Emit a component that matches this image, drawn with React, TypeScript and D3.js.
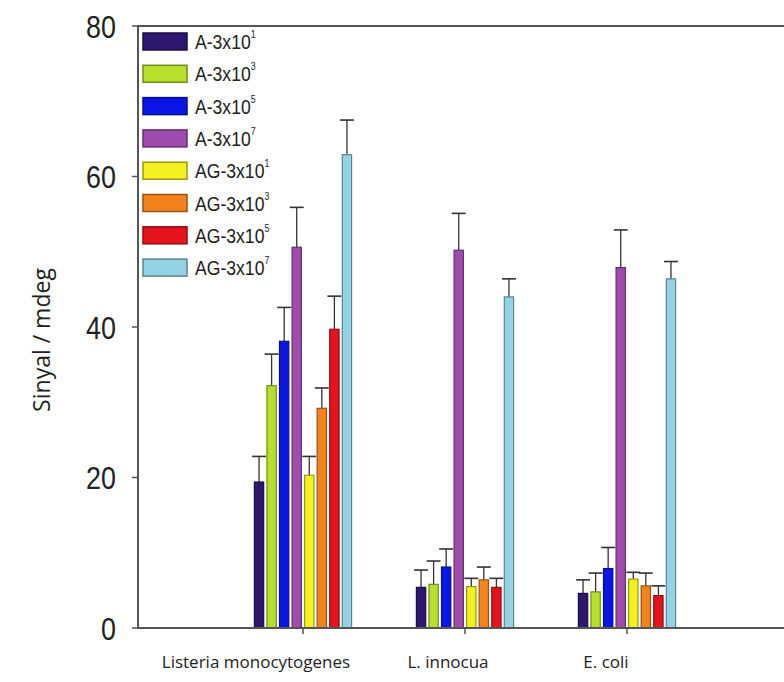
import React, { useEffect, useRef } from "react";
import * as d3 from "d3";

const groups = ["Listeria monocytogenes", "L. innocua", "E. coli"];
const seriesBase = ["A-3x10", "A-3x10", "A-3x10", "A-3x10", "AG-3x10", "AG-3x10", "AG-3x10", "AG-3x10"];
const seriesExp = ["1", "3", "5", "7", "1", "3", "5", "7"];
const seriesKeys = ["A1", "A3", "A5", "A7", "AG1", "AG3", "AG5", "AG7"];
const colors = ["#2d176f", "#b7df2b", "#0b16e4", "#9f4cae", "#f3f220", "#f3821f", "#e5141c", "#93d3e3"];

// values per group, in series order
const listeria = [19.4, 32.2, 38.1, 50.6, 20.3, 29.2, 39.7, 62.9];
const innocua = [5.4, 5.8, 8.1, 50.2, 5.5, 6.4, 5.4, 44.0];
const ecoli = [4.6, 4.8, 7.9, 47.9, 6.5, 5.6, 4.3, 46.4];
const listeriaErr = [3.4, 4.2, 4.5, 5.3, 2.5, 2.7, 4.4, 4.6];
const innocuaErr = [2.3, 3.1, 2.4, 4.9, 1.1, 1.7, 1.2, 2.4];
const ecoliErr = [1.8, 2.5, 2.8, 5.0, 0.9, 1.7, 1.3, 2.3];
const yTicks = [0, 20, 40, 60, 80];
const labelShift = [-47, -17, -21];

const values = [listeria, innocua, ecoli];
const errors = [listeriaErr, innocuaErr, ecoliErr];

const W = 784;
const H = 682;
const narrow = "'Liberation Sans', Arial, sans-serif";

export default function App() {
  const ref = useRef<SVGSVGElement>(null);

  useEffect(() => {
    const svg = d3.select(ref.current);
    svg.selectAll("*").remove();

    const axisX = 138;
    const y = d3.scaleLinear().domain([0, 80]).range([628, 26]);
    const x0 = d3.scaleBand().domain(groups).range([222, 708]).paddingInner(0.4).paddingOuter(0.2);
    const x1 = d3.scaleBand().domain(seriesKeys).range([0, x0.bandwidth()]).paddingInner(0.26);

    const axisColor = "#555";

    // bars
    const g = svg.append("g");
    groups.forEach((grp, gi) => {
      const gg = g.append("g").attr("transform", `translate(${x0(grp)},0)`);
      seriesKeys.forEach((k, si) => {
        const v = values[gi][si];
        const e = errors[gi][si];
        const bx = x1(k)!;
        const bw = x1.bandwidth();
        const cx = bx + bw / 2;
        // upper error bar only
        gg.append("line")
          .attr("x1", cx).attr("x2", cx)
          .attr("y1", y(v)).attr("y2", y(v + e))
          .attr("stroke", "#333").attr("stroke-width", 1.3);
        gg.append("line")
          .attr("x1", cx - bw * 0.75).attr("x2", cx + bw * 0.75)
          .attr("y1", y(v + e)).attr("y2", y(v + e))
          .attr("stroke", "#333").attr("stroke-width", 1.6);
        gg.append("rect")
          .attr("x", bx).attr("y", y(v))
          .attr("width", bw).attr("height", y(0) - y(v))
          .attr("fill", colors[si])
          .attr("stroke", d3.color(colors[si])!.darker(1.3).formatHex())
          .attr("stroke-width", 1.2);
      });
    });

    // frame lines
    svg.append("line")
      .attr("x1", axisX).attr("x2", W + 5)
      .attr("y1", y(80)).attr("y2", y(80))
      .attr("stroke", axisColor).attr("stroke-width", 2);
    svg.append("line")
      .attr("x1", axisX).attr("x2", W + 5)
      .attr("y1", y(0)).attr("y2", y(0))
      .attr("stroke", axisColor).attr("stroke-width", 2);
    svg.append("line")
      .attr("x1", axisX).attr("x2", axisX)
      .attr("y1", y(80) - 1).attr("y2", y(0) + 1)
      .attr("stroke", axisColor).attr("stroke-width", 2);

    // y ticks
    const yt = svg.append("g");
    yTicks.forEach((t) => {
      yt.append("line")
        .attr("x1", axisX - 6).attr("x2", axisX)
        .attr("y1", y(t)).attr("y2", y(t))
        .attr("stroke", axisColor).attr("stroke-width", 1.5);
      yt.append("text")
        .attr("transform", `translate(116,${y(t)}) scale(0.84,1)`)
        .attr("dy", "0.36em")
        .attr("text-anchor", "end")
        .attr("font-family", narrow)
        .attr("font-size", 32)
        .attr("fill", "#222")
        .text(t);
    });

    // x ticks and labels
    groups.forEach((grp, gi) => {
      const cx = x0(grp)! + x0.bandwidth() / 2;
      svg.append("line")
        .attr("x1", cx).attr("x2", cx)
        .attr("y1", y(0)).attr("y2", y(0) + 6)
        .attr("stroke", axisColor).attr("stroke-width", 1.5);
      svg.append("text")
        .attr("x", cx + labelShift[gi]).attr("y", 668)
        .attr("text-anchor", "middle")
        .attr("font-family", "'Open Sans', sans-serif")
        .attr("font-size", 17)
        .attr("fill", "#222")
        .text(grp);
    });

    // y label
    svg.append("text")
      .attr("transform", `translate(50,340) rotate(-90)`)
      .attr("text-anchor", "middle")
      .attr("font-family", "'Open Sans', sans-serif")
      .attr("font-size", 23)
      .attr("fill", "#222")
      .text("Sinyal / mdeg");

    // legend
    const lg = svg.append("g").attr("transform", "translate(143,33)");
    seriesKeys.forEach((k, si) => {
      const row = lg.append("g").attr("transform", `translate(0,${si * 32.3})`);
      row.append("rect")
        .attr("width", 44).attr("height", 17)
        .attr("fill", colors[si])
        .attr("stroke", d3.color(colors[si])!.darker(1.3).formatHex())
        .attr("stroke-width", 1.5);
      const txt = row.append("text")
        .attr("transform", "translate(52,16) scale(0.88,1)")
        .attr("font-family", narrow)
        .attr("font-size", 20)
        .attr("fill", "#222");
      txt.append("tspan").text(seriesBase[si]);
      txt.append("tspan")
        .attr("dy", -11).attr("font-size", 10)
        .text(seriesExp[si]);
    });
  }, []);

  return (
    <svg
      ref={ref}
      width={W}
      height={H}
      style={{ position: "absolute", left: 0, top: 0, background: "#fff" }}
    />
  );
}
